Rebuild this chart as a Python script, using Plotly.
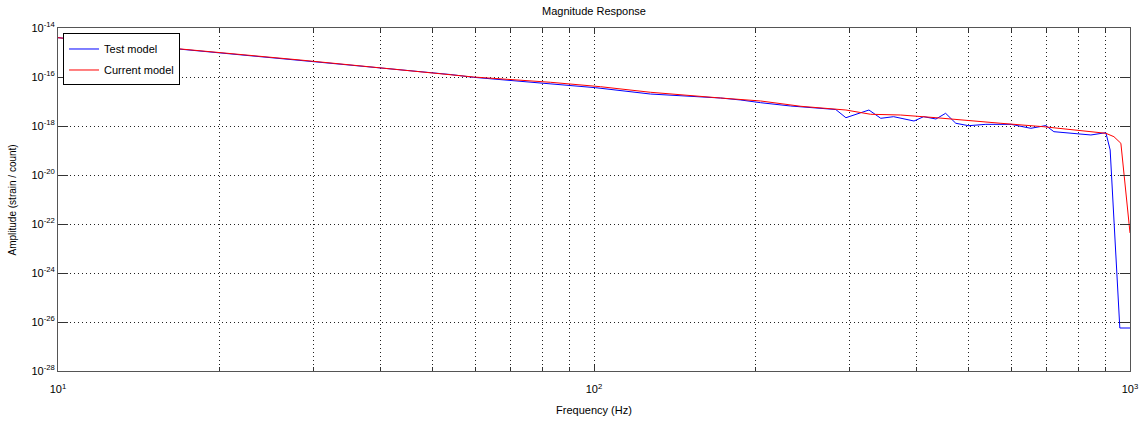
import plotly.graph_objects as go

# Current model (red)
cur_freq = [10.0, 28.3, 59.6, 83.0, 102.8, 127.4, 172.2, 204.6, 243.2, 295.1, 328.1,
            373.3, 434.5, 500.0, 574.1, 690.2, 809.1, 901.5, 933.3, 961.6, 1000.0]
cur_amp = [4.02e-15, 4.94e-16, 1.00e-16, 6.08e-17, 4.02e-17, 2.38e-17, 1.39e-17, 1.05e-17,
           6.37e-18, 4.50e-18, 3.01e-18, 2.81e-18, 2.18e-18, 1.64e-18, 1.29e-18, 9.35e-19,
           6.43e-19, 5.04e-19, 3.66e-19, 1.97e-19, 4.30e-23]

# Test model (blue)
test_freq = [10.0, 28.3, 54.0, 59.6, 100.7, 127.4, 172.2, 187.9, 204.6, 232.8, 264.9,
             282.5, 295.1, 325.8, 342.8, 362.2, 395.4, 412.1, 434.5, 452.9, 473.2, 500.0,
             538.3, 599.8, 653.1, 696.6, 721.1, 785.2, 845.3, 901.5, 918.3, 957.2, 1000.0]
test_amp = [4.02e-15, 4.94e-16, 1.26e-16, 9.7e-17, 3.66e-17, 2.02e-17, 1.39e-17, 1.15e-17,
            8.93e-18, 6.55e-18, 5.43e-18, 4.71e-18, 2.18e-18, 4.50e-18, 2.06e-18, 2.40e-18,
            1.60e-18, 2.40e-18, 1.93e-18, 3.30e-18, 1.29e-18, 1.03e-18, 1.17e-18, 1.17e-18,
            8.05e-19, 1.04e-18, 5.85e-19, 5.04e-19, 4.30e-19, 5.33e-19, 1.05e-19, 5.69e-27,
            5.69e-27]

x_major = [10, 100, 1000]
x_labels = ["10<sup>1</sup>", "10<sup>2</sup>", "10<sup>3</sup>"]
x_minor = [20, 30, 40, 50, 60, 70, 80, 90, 200, 300, 400, 500, 600, 700, 800, 900]
y_major = [1e-14, 1e-16, 1e-18, 1e-20, 1e-22, 1e-24, 1e-26, 1e-28]
y_labels = ["10<sup>-%d</sup>" % e for e in range(14, 30, 2)]

FONT = "Liberation Sans, Arial, Helvetica, sans-serif"
GRID = dict(gridcolor="#222", griddash="1px,3px", gridwidth=1)

fig = go.Figure()
fig.add_trace(go.Scatter(x=test_freq, y=test_amp, mode="lines", name="Test model",
                         legendgroup="a", line=dict(color="#0000ff", width=1)))
fig.add_trace(go.Scatter(x=cur_freq, y=cur_amp, mode="lines", name="Current model",
                         legendgroup="b", line=dict(color="#ff0000", width=1)))

fig.update_layout(
    width=1140, height=421,
    margin=dict(l=58, r=10, t=28, b=50, autoexpand=False),
    paper_bgcolor="white", plot_bgcolor="white",
    font=dict(family=FONT, size=11, color="black"),
    title=dict(text="Magnitude Response", x=0.5, xref="paper", xanchor="center",
               y=1, yref="container", yanchor="top", pad=dict(t=7),
               font=dict(size=11, family=FONT, color="black")),
    showlegend=True,
    legend=dict(x=0.0047, y=0.984, xanchor="left", yanchor="top",
                bgcolor="white", bordercolor="black", borderwidth=1,
                font=dict(size=11, family=FONT), tracegroupgap=2),
    annotations=[dict(text="Amplitude (strain / count)", textangle=-90,
                      xref="paper", yref="paper", x=-0.042, y=0.5,
                      xanchor="center", yanchor="middle", showarrow=False,
                      font=dict(size=10, family=FONT, color="black"))],
)

fig.update_xaxes(
    type="log", range=[1, 3], automargin=False,
    tickmode="array", tickvals=x_major, ticktext=x_labels,
    ticks="inside", ticklen=6, tickcolor="#333", mirror="allticks",
    ticklabelstandoff=8,
    showline=True, linecolor="#555", linewidth=1,
    showgrid=True, **GRID,
    minor=dict(tickmode="array", tickvals=x_minor, ticks="inside", ticklen=4,
               tickcolor="#333", showgrid=True, **GRID),
    zeroline=False,
    title=dict(text="Frequency (Hz)", font=dict(size=11, family=FONT), standoff=12),
    tickfont=dict(size=11, family=FONT),
)

fig.update_yaxes(
    type="log", range=[-28, -14], automargin=False,
    tickmode="array", tickvals=y_major, ticktext=y_labels,
    ticks="inside", ticklen=10, tickcolor="#333", mirror="allticks",
    showline=True, linecolor="#555", linewidth=1,
    showgrid=True, **GRID,
    zeroline=False,
    tickfont=dict(size=11, family=FONT),
)

fig.write_html("out.html")
